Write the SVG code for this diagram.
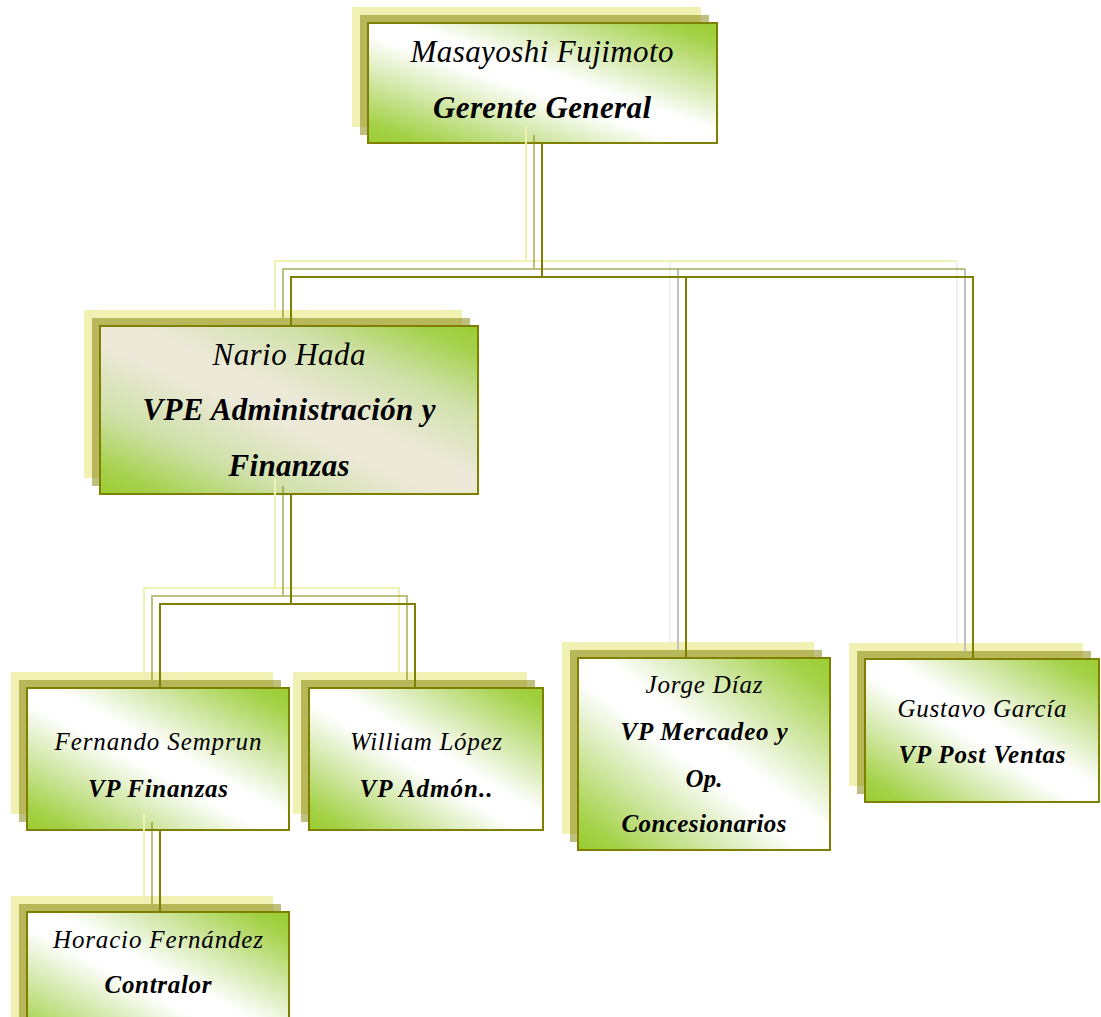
<svg xmlns="http://www.w3.org/2000/svg" width="1101" height="1017" viewBox="0 0 1101 1017">
<defs>
<linearGradient id="g" x1="1" y1="0" x2="0" y2="1">
<stop offset="0" stop-color="#9acd32"/>
<stop offset="0.08" stop-color="#a3d145"/>
<stop offset="0.25" stop-color="#cde59d"/>
<stop offset="0.45" stop-color="#ffffff"/>
<stop offset="0.55" stop-color="#ffffff"/>
<stop offset="0.75" stop-color="#cde59d"/>
<stop offset="0.92" stop-color="#a3d145"/>
<stop offset="1" stop-color="#9acd32"/>
</linearGradient>
<linearGradient id="gb" x1="1" y1="0" x2="0" y2="1">
<stop offset="0" stop-color="#9acd32"/>
<stop offset="0.08" stop-color="#a5d14b"/>
<stop offset="0.25" stop-color="#cfe0a8"/>
<stop offset="0.45" stop-color="#ece9d8"/>
<stop offset="0.55" stop-color="#ece9d8"/>
<stop offset="0.75" stop-color="#cfe0a8"/>
<stop offset="0.92" stop-color="#a5d14b"/>
<stop offset="1" stop-color="#9acd32"/>
</linearGradient>
</defs>
<style>
.s1{fill:#f1f1b4}
.s2{fill:#808000;fill-opacity:0.5}
.m{fill:url(#g);stroke:#808000;stroke-width:2}
.mb{fill:url(#gb);stroke:#808000;stroke-width:2}
text{font-family:'Liberation Serif','Times New Roman',Times,serif;font-style:italic;fill:#000;text-anchor:middle}
.b{font-weight:bold}
.big{font-size:31px}
.sm{font-size:25px}
.c0{fill:none;stroke:#808000;stroke-width:2}
.c1{fill:none;stroke:#808000;stroke-opacity:0.5;stroke-width:2}
.c2{fill:none;stroke:#f1f1b4;stroke-width:2}
.g1{fill:none;stroke:#c0c0c0;stroke-width:2}
.g2{fill:none;stroke:#f0f0f0;stroke-width:2}
</style>

<g id="node-gerente">
<rect class="s1" x="352" y="7" width="349" height="120"/>
<rect class="s2" x="360" y="15" width="349" height="120"/>
<rect class="m" x="368" y="23" width="349" height="120"/>
<text class="big" x="542" y="62" textLength="263" lengthAdjust="spacing">Masayoshi Fujimoto</text>
<text class="big b" x="542" y="118" textLength="218" lengthAdjust="spacing">Gerente General</text>
</g>

<g id="node-vpe">
<rect class="s1" x="84" y="310" width="378" height="168"/>
<rect class="s2" x="92" y="318" width="378" height="168"/>
<rect class="mb" x="100" y="326" width="378" height="168"/>
<text class="big" x="289" y="365" textLength="153" lengthAdjust="spacing">Nario Hada</text>
<text class="big b" x="289" y="420" textLength="293" lengthAdjust="spacing">VPE Administración y</text>
<text class="big b" x="289" y="476" textLength="121" lengthAdjust="spacing">Finanzas</text>
</g>

<g id="node-finanzas">
<rect class="s1" x="11" y="672" width="262" height="142"/>
<rect class="s2" x="19" y="680" width="262" height="142"/>
<rect class="m" x="27" y="688" width="262" height="142"/>
<text class="sm" x="158" y="750" textLength="207" lengthAdjust="spacing">Fernando Semprun</text>
<text class="sm b" x="158" y="797" textLength="140" lengthAdjust="spacing">VP Finanzas</text>
</g>

<g id="node-admon">
<rect class="s1" x="293" y="672" width="234" height="142"/>
<rect class="s2" x="301" y="680" width="234" height="142"/>
<rect class="m" x="309" y="688" width="234" height="142"/>
<text class="sm" x="426" y="750" textLength="152" lengthAdjust="spacing">William López</text>
<text class="sm b" x="426" y="797" textLength="133" lengthAdjust="spacing">VP Admón..</text>
</g>

<g id="node-mercadeo">
<rect class="s1" x="562" y="642" width="252" height="192"/>
<rect class="s2" x="570" y="650" width="252" height="192"/>
<rect class="m" x="578" y="658" width="252" height="192"/>
<text class="sm" x="704" y="693" textLength="117" lengthAdjust="spacing">Jorge Díaz</text>
<text class="sm b" x="704" y="740" textLength="167" lengthAdjust="spacing">VP Mercadeo y</text>
<text class="sm b" x="704" y="787" textLength="37" lengthAdjust="spacing">Op.</text>
<text class="sm b" x="704" y="832" textLength="165" lengthAdjust="spacing">Concesionarios</text>
</g>

<g id="node-postventas">
<rect class="s1" x="849" y="643" width="234" height="143"/>
<rect class="s2" x="857" y="651" width="234" height="143"/>
<rect class="m" x="865" y="659" width="234" height="143"/>
<text class="sm" x="982" y="717" textLength="169" lengthAdjust="spacing">Gustavo García</text>
<text class="sm b" x="982" y="763" textLength="167" lengthAdjust="spacing">VP Post Ventas</text>
</g>

<g id="node-contralor">
<rect class="s1" x="11" y="896" width="262" height="142"/>
<rect class="s2" x="19" y="904" width="262" height="142"/>
<rect class="m" x="27" y="912" width="262" height="142"/>
<text class="sm" x="158" y="948" textLength="210" lengthAdjust="spacing">Horacio Fernández</text>
<text class="sm b" x="158" y="993" textLength="107" lengthAdjust="spacing">Contralor</text>
</g>

<g id="connectors">
<path class="g2" d="M670,261 V642 M957,261 V643"/>
<path class="g1" d="M678,269 V650 M965,269 V651"/>
<path class="c2" d="M526,127 V261 M275,310 V261 H957"/>
<path class="c1" d="M534,135 V269 M283,318 V269 H965"/>
<path class="c0" d="M542,143 V277 M291,326 V277 H973 V659 M686,277 V658"/>
<path class="c2" d="M275,478 V588 M144,672 V588 H399 V672"/>
<path class="c1" d="M283,486 V596 M152,680 V596 H407 V680"/>
<path class="c0" d="M291,494 V604 M160,688 V604 H415 V688"/>
<path class="c2" d="M144,814 V896"/>
<path class="c1" d="M152,822 V904"/>
<path class="c0" d="M160,830 V912"/>
</g>
</svg>
